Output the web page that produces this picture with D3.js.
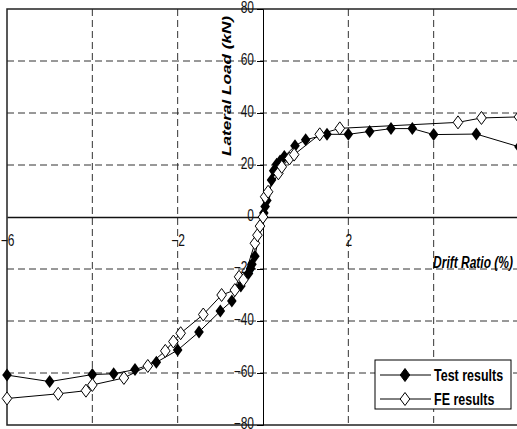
<!DOCTYPE html>
<html>
<head>
<meta charset="utf-8">
<script src="https://cdn.jsdelivr.net/npm/d3@7"></script>
<style>
  body { margin: 0; background: #fff; }
  svg { display: block; font-family: "Liberation Sans", Arial, sans-serif; }
</style>
</head>
<body>
<div id="chart"></div>
<script>
// Drift ratio (%) / lateral load (kN)
var testX = [-6.0, -5.0, -4.0, -3.5, -3.0, -2.5, -2.0, -1.5, -1.0, -0.73, -0.52, -0.34, -0.29, -0.26, -0.19,
  0.0, 0.02, 0.05, 0.09, 0.2, 0.25, 0.32, 0.4, 0.5, 0.75, 1.0, 1.5, 2.0, 2.5, 3.0, 3.5, 4.0, 5.0, 6.0];
var testY = [-60.8, -63.3, -60.6, -60.3, -58.7, -55.9, -51.2, -44.2, -36.2, -32.3, -26.5, -21.7, -19.8, -18.2, -15.1,
  0.0, 1.5, 4.0, 6.3, 14.2, 17.8, 20.3, 21.5, 23.3, 27.4, 29.7, 31.8, 31.8, 32.9, 34.0, 34.0, 31.7, 31.9, 27.0];

var feX = [-6.0, -4.8, -4.15, -4.0, -3.26, -2.7, -2.29, -2.1, -1.93, -1.4, -0.97, -0.66, -0.56, -0.46, -0.19, -0.13, -0.07,
  0.0, 0.05, 0.12, 0.36, 0.44, 0.62, 0.73, 1.33, 1.8, 4.57, 5.12, 6.0];
var feY = [-69.8, -68.0, -66.8, -64.6, -61.9, -57.3, -51.5, -47.9, -44.7, -37.5, -30.0, -28.1, -23.0, -24.2, -10.1, -7.0, -3.5,
  0.0, 7.8, 9.7, 16.8, 19.3, 22.5, 24.0, 31.8, 34.1, 36.4, 38.1, 38.5];

var xGrid = [-4, -2, 2, 4];
var yGrid = [-60, -40, -20, 20, 40, 60];
var xTickLabels = [-6, -2, 2];
var yTickLabels = [-80, -60, -40, -20, 0, 20, 40, 60, 80];

var seriesNames = ["Test results", "FE results"];

var svgWidth = 517;
var svgHeight = 429;

var svg = d3.select("#chart")
  .append("svg")
  .attr("width", svgWidth)
  .attr("height", svgHeight);

var xScale = d3.scaleLinear().domain([-6, 6]).range([7, 519]);
var yScale = d3.scaleLinear().domain([-80, 80]).range([425, 9]);

// the scan is stretched vertically, so text gets a y-scale too
var stretch = 1.3;

// dashed grid
svg.append("g").selectAll("line")
  .data(xGrid)
  .enter()
  .append("line")
  .attr("x1", d => xScale(d))
  .attr("x2", d => xScale(d))
  .attr("y1", yScale(80))
  .attr("y2", yScale(-80))
  .attr("stroke", "#333")
  .attr("stroke-dasharray", "7,4");

svg.append("g").selectAll("line")
  .data(yGrid)
  .enter()
  .append("line")
  .attr("x1", xScale(-6))
  .attr("x2", xScale(6))
  .attr("y1", d => yScale(d))
  .attr("y2", d => yScale(d))
  .attr("stroke", "#333")
  .attr("stroke-dasharray", "7,4");

// plot border
svg.append("rect")
  .attr("x", xScale(-6))
  .attr("y", yScale(80))
  .attr("width", xScale(6) - xScale(-6))
  .attr("height", yScale(-80) - yScale(80))
  .attr("fill", "none")
  .attr("stroke", "#222")
  .attr("stroke-width", 1.5);

// x axis through zero
var xAxis = svg.append("g")
  .attr("transform", `translate(0, ${yScale(0)})`)
  .call(d3.axisBottom(xScale).tickValues(xTickLabels).tickSize(0).tickPadding(14));
xAxis.select(".domain").attr("stroke", "#111").attr("stroke-width", 1.5);

// y axis through zero
var yAxis = svg.append("g")
  .attr("transform", `translate(${xScale(0)}, 0)`)
  .call(d3.axisLeft(yScale).tickValues(yTickLabels).tickSize(6).tickPadding(3));
yAxis.select(".domain").attr("stroke", "#000");

svg.selectAll(".tick text")
  .attr("font-family", "'Liberation Sans', Arial, sans-serif")
  .attr("font-size", 12)
  .attr("fill", "#111")
  .attr("transform", `scale(1, ${stretch})`);
yAxis.selectAll(".tick text").attr("dy", "0.25em");

// axis titles
svg.append("text")
  .attr("transform", `translate(231, 86) rotate(-90)`)
  .attr("text-anchor", "middle")
  .attr("font-size", 13)
  .attr("font-weight", "bold")
  .attr("font-style", "italic")
  .attr("textLength", 140)
  .attr("lengthAdjust", "spacingAndGlyphs")
  .text("Lateral Load (kN)");

svg.append("text")
  .attr("transform", `translate(513, 268) scale(1, ${stretch})`)
  .attr("text-anchor", "end")
  .attr("font-size", 12)
  .attr("font-weight", "bold")
  .attr("font-style", "italic")
  .text("Drift Ratio (%)");

// series
var diamond = "M0,-6.5L4.8,0L0,6.5L-4.8,0Z";
var lineGen = d3.line()
  .x(d => xScale(d[0]))
  .y(d => yScale(d[1]));

var testData = testX.map((d, i) => [d, testY[i]]);
var feData = feX.map((d, i) => [d, feY[i]]);

svg.append("path")
  .datum(testData)
  .attr("d", lineGen)
  .attr("fill", "none")
  .attr("stroke", "#000")
  .attr("stroke-width", 1);

svg.append("g").selectAll("path")
  .data(testData)
  .enter()
  .append("path")
  .attr("transform", d => `translate(${xScale(d[0])}, ${yScale(d[1])})`)
  .attr("d", diamond)
  .attr("fill", "#000");

svg.append("path")
  .datum(feData)
  .attr("d", lineGen)
  .attr("fill", "none")
  .attr("stroke", "#000")
  .attr("stroke-width", 1);

svg.append("g").selectAll("path")
  .data(feData)
  .enter()
  .append("path")
  .attr("transform", d => `translate(${xScale(d[0])}, ${yScale(d[1])})`)
  .attr("d", diamond)
  .attr("fill", "#fff")
  .attr("stroke", "#000")
  .attr("stroke-width", 1);

// legend
var legend = svg.append("g");
legend.append("rect")
  .attr("x", 375)
  .attr("y", 360)
  .attr("width", 136)
  .attr("height", 49)
  .attr("fill", "#fff")
  .attr("stroke", "#000");

seriesNames.forEach(function(name, i) {
  var ly = 375 + i * 24;
  legend.append("line")
    .attr("x1", 380)
    .attr("x2", 431)
    .attr("y1", ly)
    .attr("y2", ly)
    .attr("stroke", "#000");
  legend.append("path")
    .attr("transform", `translate(405, ${ly})`)
    .attr("d", diamond)
    .attr("fill", i === 0 ? "#000" : "#fff")
    .attr("stroke", "#000");
  legend.append("text")
    .attr("transform", `translate(434, ${ly + 6}) scale(1, ${stretch})`)
    .attr("font-size", 12.5)
    .attr("font-weight", "bold")
    .text(name);
});
</script>
</body>
</html>
